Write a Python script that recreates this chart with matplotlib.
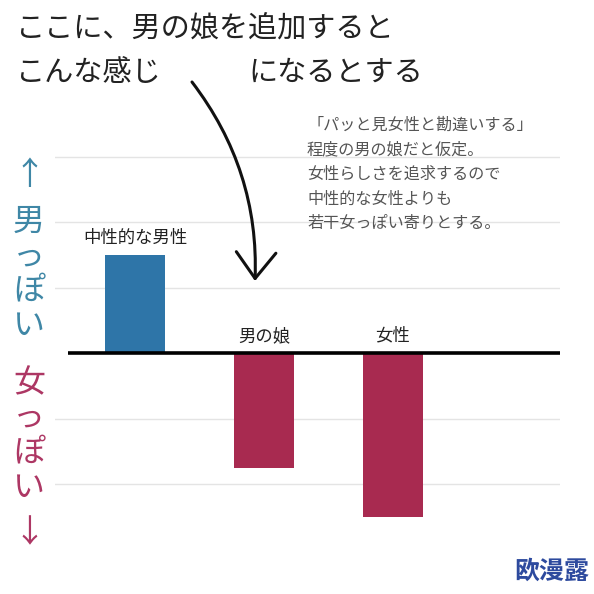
import matplotlib.pyplot as plt
from matplotlib.patches import FancyArrowPatch

plt.rcParams['font.family'] = ['Noto Sans CJK JP', 'DejaVu Sans']

categories = ['中性的な男性', '男の娘', '女性']
values = [1.5, -1.75, -2.5]
bar_colors = ['#2e75a8', '#a82a50', '#a82a50']
grid_levels = [-2, -1, 1, 2, 3]

title_line1 = 'ここに、男の娘を追加すると'
title_line2a = 'こんな感じ'
title_line2b = 'になるとする'
note_lines = ['「パッと見女性と勘違いする」',
              '程度の男の娘だと仮定。',
              '女性らしさを追求するので',
              '中性的な女性よりも',
              '若干女っぽい寄りとする。']
up_label = '男っぽい'
down_label = '女っぽい'
watermark = '欧漫露'

W = H = 594
fig = plt.figure(figsize=(5.94, 5.94), dpi=100)


def fx(px):
    return px / W


def fy(py):
    return 1 - py / H


# axes placed to match the reference layout (pixels 55..560 x 150..530)
ax = fig.add_axes([fx(55), fy(530), (560 - 55) / W, (530 - 150) / H])
ax.set_xlim(-0.62, 3.295)
ax.set_ylim(-2.70, 3.10)
ax.axis('off')

for g in grid_levels:
    ax.axhline(g, color='#e4e4e4', lw=1, zorder=0)

x = list(range(len(categories)))
ax.bar(x, values, width=0.47, color=bar_colors, zorder=2)
ax.hlines(0, -0.52, 3.295, color='black', lw=2.6, zorder=3)

for i, (cat, v) in enumerate(zip(categories, values)):
    ax.annotate(cat, (i, max(v, 0)), xytext=(0, 6), textcoords='offset points',
                ha='center', va='bottom', fontsize=12.5, color='#222222')

# title text
fig.text(fx(16), fy(30), title_line1, fontsize=21, color='#222222', va='center')
fig.text(fx(16), fy(73), title_line2a, fontsize=21, color='#222222', va='center')
fig.text(fx(248), fy(73), title_line2b, fontsize=21, color='#222222', va='center')

# note
for k, line in enumerate(note_lines):
    fig.text(fx(307), fy(125 + 24.7 * k), line, fontsize=11.6, color='#555555', va='center')

# hand-drawn style arrow
arrow = FancyArrowPatch((fx(192), fy(82)), (fx(255), fy(281)),
                        transform=fig.transFigure, connectionstyle='arc3,rad=-0.18',
                        arrowstyle='->,head_length=1.25,head_width=0.95',
                        mutation_scale=15, lw=2.2, color='#111111',
                        shrinkA=0, shrinkB=0)
fig.patches.append(arrow)

# vertical side labels
blue_c = '#3f87a6'
red_c = '#ad3764'
fig.text(fx(29), fy(175), '↑', fontsize=23, color=blue_c, ha='center', va='center')
for k, ch in enumerate(up_label):
    fig.text(fx(29), fy(222 + 34.5 * k), ch, fontsize=23, color=blue_c, ha='center', va='center')
for k, ch in enumerate(down_label):
    fig.text(fx(29), fy(383 + 35 * k), ch, fontsize=23, color=red_c, ha='center', va='center')
fig.text(fx(29), fy(533), '↓', fontsize=23, color=red_c, ha='center', va='center')

fig.text(fx(552), fy(572), watermark, fontsize=18, fontweight='bold',
         color='#2d4a9e', ha='center', va='center')

fig.savefig('out.png', dpi=100, facecolor='white')
